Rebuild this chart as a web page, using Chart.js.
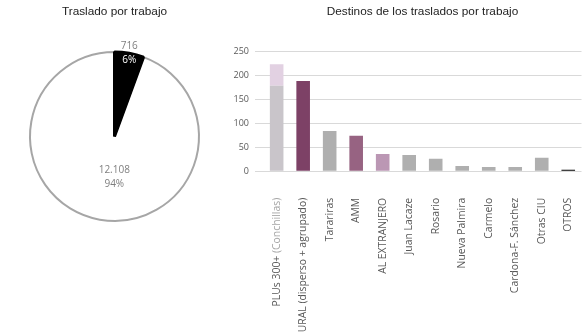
<!DOCTYPE html>
<html>
<head>
<meta charset="utf-8">
<script src="https://cdn.jsdelivr.net/npm/chart.js"></script>
<style>
    html, body {
        margin: 0;
        padding: 0;
        width: 586px;
        height: 332px;
        overflow: hidden;
        background: #fff;
    }
    #pieBox {
        position: absolute;
        left: 0;
        top: 0;
        width: 230px;
        height: 332px;
    }
    #barBox {
        position: absolute;
        left: 230px;
        top: 0;
        width: 370px;
        height: 332px;
    }
</style>
</head>
<body>
<div id="pieBox"><canvas id="pieChart"></canvas></div>
<div id="barBox"><canvas id="barChart"></canvas></div>
<script>
// Traslado por trabajo
let pieLabels = ['Trabaja en la localidad', 'Se traslada'];
let pieValues = [12108, 716];
let pieColors = ['#ffffff', '#000000'];

// Destinos de los traslados
let destinos = ['PLUs 300+ (Conchillas)', 'RURAL (disperso + agrupado)', 'Tarariras', 'AMM', 'AL EXTRANJERO', 'Juan Lacaze',
    'Rosario', 'Nueva Palmira', 'Carmelo', 'Cardona-F. Sánchez', 'Otras CIU', 'OTROS'];
let traslados = [178, 188, 84, 74, 36, 34, 26, 11, 9, 9, 28, 3];
let conchillas = [45, 0, 0, 0, 0, 0, 0, 0, 0, 0, 0, 0];
let barColors = ['#c9c5ca', '#7d4166', '#afafaf', '#976382', '#bb97b4', '#afafaf',
    '#afafaf', '#afafaf', '#afafaf', '#afafaf', '#afafaf', '#000000'];
let yTicks = [0, 50, 100, 150, 200, 250];

let pieTotal = pieValues.reduce((a, b) => a + b, 0);

function formatNumber(v) {
    return v.toString().replace(/\B(?=(\d{3})+(?!\d))/g, '.');
}

// value + percent inside each slice, white where it sits on the dark slice
const pieLabelPlugin = {
    id: 'pieLabels',
    afterDatasetsDraw(chart) {
        let ctx = chart.ctx;
        let meta = chart.getDatasetMeta(0);
        let radiusFactor = [0.49, 1.0];
        let shiftX = [7, 0];
        ctx.save();
        ctx.font = '10px "Open Sans"';
        ctx.textAlign = 'center';
        ctx.textBaseline = 'middle';
        meta.data.forEach((arc, i) => {
            let mid = (arc.startAngle + arc.endAngle) / 2;
            let r = arc.outerRadius * radiusFactor[i];
            let x = arc.x + Math.cos(mid) * r + shiftX[i];
            let y = arc.y + Math.sin(mid) * r;
            let lines = [formatNumber(pieValues[i]), Math.round(100 * pieValues[i] / pieTotal) + '%'];
            lines.forEach((text, k) => {
                let ly = y + (k - 0.5) * 14;
                let onDark = pieColors[i] === '#000000' && arc.inRange(x, ly);
                ctx.fillStyle = onDark ? '#ffffff' : '#7f7f7f';
                ctx.fillText(text, x, ly);
            });
        });
        ctx.restore();
    }
};

// first category label: name in dark grey, place in brackets lighter
const twoToneLabelPlugin = {
    id: 'twoToneLabel',
    afterDraw(chart) {
        let scale = chart.scales.x;
        let item = scale.getLabelItems()[0];
        let ctx = chart.ctx;
        let open = destinos[0].indexOf('(');
        let head = destinos[0].slice(0, open);
        let tail = destinos[0].slice(open);
        ctx.save();
        ctx.translate(item.options.translation[0], item.options.translation[1]);
        ctx.rotate(item.options.rotation);
        ctx.font = item.font.string;
        ctx.textAlign = 'right';
        ctx.textBaseline = item.options.textBaseline;
        ctx.fillStyle = '#a6a6a6';
        ctx.fillText(tail, 0, item.textOffset);
        ctx.fillStyle = '#595959';
        ctx.fillText(head, -ctx.measureText(tail).width, item.textOffset);
        ctx.restore();
    }
};

const pieConfig = {
    type: 'pie',
    data: {
        labels: pieLabels,
        datasets: [{
            data: pieValues,
            backgroundColor: pieColors,
            borderColor: ['#a6a6a6', '#000000'],
            borderWidth: [2, 3],
        }]
    },
    options: {
        responsive: true,
        maintainAspectRatio: false,
        animation: false,
        rotation: 360 * pieValues[1] / pieTotal,
        layout: {
            padding: { left: 28.5, right: 29.5, top: 0, bottom: 109.5 }
        },
        plugins: {
            legend: { display: false },
            tooltip: { enabled: false },
            title: {
                display: true,
                text: 'Traslado por trabajo',
                fullSize: false,
                color: '#222',
                font: { family: '"Liberation Sans"', size: 11.8, weight: 'normal' },
                padding: { top: 4.5, bottom: 31.8 }
            }
        }
    },
    plugins: [pieLabelPlugin]
};

const barConfig = {
    type: 'bar',
    data: {
        labels: destinos,
        datasets: [{
            label: 'Traslados',
            data: traslados,
            backgroundColor: barColors,
            categoryPercentage: 1,
            barPercentage: 0.513,
        }, {
            label: 'Conchillas',
            data: conchillas,
            backgroundColor: '#e2d1e2',
            categoryPercentage: 1,
            barPercentage: 0.513,
        }]
    },
    options: {
        responsive: true,
        maintainAspectRatio: false,
        animation: false,
        layout: {
            padding: { left: 0, right: 9, top: 0, bottom: 0 }
        },
        plugins: {
            legend: { display: false },
            tooltip: { enabled: false },
            title: {
                display: true,
                text: 'Destinos de los traslados por trabajo',
                fullSize: false,
                color: '#222',
                font: { family: '"Liberation Sans"', size: 11.8, weight: 'normal' },
                padding: { top: 4.5, bottom: 32.6 }
            }
        },
        scales: {
            x: {
                stacked: true,
                grid: { display: false },
                border: { display: false },
                ticks: {
                    autoSkip: false,
                    minRotation: 90,
                    maxRotation: 90,
                    padding: 18.5,
                    color: (c) => c.index === 0 ? 'rgba(0,0,0,0)' : '#595959',
                    font: { family: '"Open Sans"', size: 10.4 }
                },
                afterFit: (scale) => { scale.height = 160.7; }
            },
            y: {
                stacked: true,
                min: 0,
                max: 250,
                border: { display: false },
                grid: { color: '#d9d9d9', lineWidth: 1, tickLength: 8.4 },
                ticks: {
                    padding: 6,
                    color: '#595959',
                    font: { family: '"Open Sans"', size: 9 }
                },
                afterBuildTicks: (scale) => { scale.ticks = yTicks.map(v => ({ value: v })); },
                afterFit: (scale) => { scale.width = 33.4; }
            }
        }
    },
    plugins: [twoToneLabelPlugin]
};

function init() {
    new Chart(document.getElementById('pieChart'), pieConfig);
    new Chart(document.getElementById('barChart'), barConfig);
}

init();
</script>
</body>
</html>
